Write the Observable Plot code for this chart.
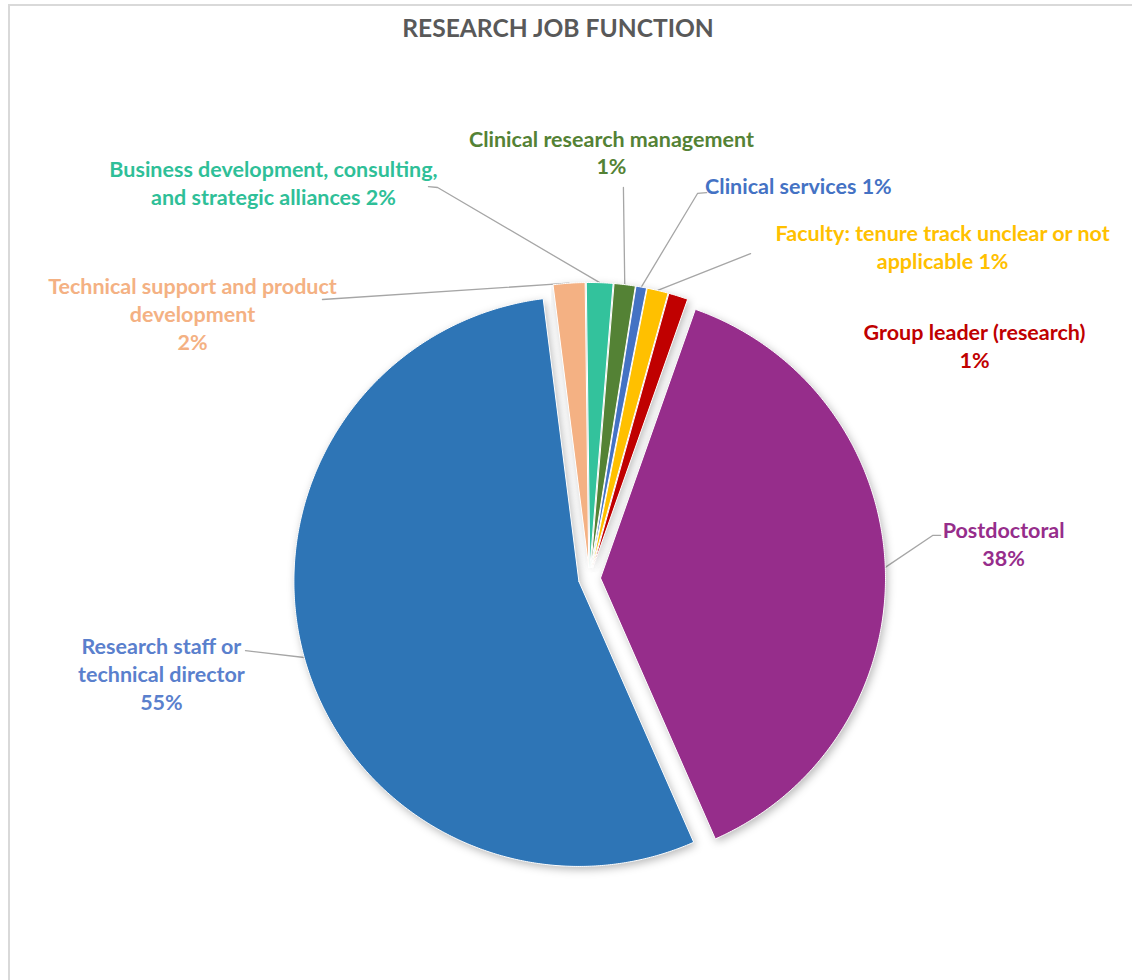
<!DOCTYPE html>
<html>
<head>
<meta charset="utf-8">
<script src="https://cdn.jsdelivr.net/npm/d3@7"></script>
<script src="https://cdn.jsdelivr.net/npm/@observablehq/plot@0.6"></script>
<style>
  body { margin: 0; background: #fff; }
  #wrap { position: relative; width: 1132px; height: 980px; overflow: hidden; background: #fff; }
  #frame { position: absolute; left: 8px; top: 4px; width: 1300px; height: 1100px;
           border-top: 2px solid #d9d9d9; border-left: 2px solid #d9d9d9; }
  #title { position: absolute; top: 13px; left: 0; width: 1116px; text-align: center;
           font: bold 24.6px Lato, sans-serif; line-height: 30px; color: #595959; }
  #chart { position: absolute; top: 60px; left: 0; }
</style>
</head>
<body>
<div id="wrap">
  <div id="frame"></div>
  <div id="title">RESEARCH JOB FUNCTION</div>
  <div id="chart"></div>
</div>
<script>
// ---- data (clockwise from the pie's start angle) ----
const names = [
  "Technical support and product development",
  "Business development, consulting, and strategic alliances",
  "Clinical research management",
  "Clinical services",
  "Faculty: tenure track unclear or not applicable",
  "Group leader (research)",
  "Postdoctoral",
  "Research staff or technical director"
];
const values = [1.8, 1.5, 1.2, 0.6, 1.2, 1.1, 38.0, 54.6];
const sliceColors = ["#F4B183", "#33C29C", "#548235", "#4472C4", "#FFC000", "#C00000", "#962D8B", "#2E75B6"];
const labelColors = ["#F4B183", "#2FBF98", "#548235", "#4472C4", "#FFC000", "#C00000", "#962D8B", "#5A80CD"];
const labelTemplates = [
  "Technical support and product\ndevelopment\n{p}",
  "Business development, consulting,\nand strategic alliances {p}",
  "Clinical research management\n{p}",
  "Clinical services {p}",
  "Faculty: tenure track unclear or not\napplicable {p}",
  "Group leader (research)\n{p}",
  "Postdoctoral\n{p}",
  "Research staff or\ntechnical director\n{p}"
];
// label anchor and leader-line start, in pie radii relative to the pie centre
const labelX = [-1.393, -1.109, 0.077, 0.733, 1.239, 1.351, 1.453, -1.502];
const labelY = [-0.930, -1.391, -1.498, -1.379, -1.165, -0.819, -0.125, 0.333];
const leaderStarts = [
  [[-0.937, -0.979]],
  [[-0.565, -1.375], [-0.533, -1.372]],
  [[0.119, -1.372]],
  [[0.411, -1.354], [0.379, -1.351]],
  [[0.565, -1.140]],
  null,
  [[1.232, -0.151], [1.204, -0.151]],
  [[-1.207, 0.253]]
];

// ---- layout ----
const W = 1132, H = 920;
const cx = 589, cy = 518, R = 285;
const startDeg = -7.2;
const explode = 11 / R;
const toRad = Math.PI / 180;
const u = (a) => [Math.sin(a), -Math.cos(a)];

const arcs = d3.pie().sort(null).value(d => d)
  .startAngle(startDeg * toRad).endAngle(startDeg * toRad + 2 * Math.PI)(values);

const slices = [];
const sliceMid = [];
arcs.forEach((a, i) => {
  const mid = (a.startAngle + a.endAngle) / 2;
  const [ox, oy] = u(mid).map(v => v * explode);
  const pts = [{x: ox, y: oy}];
  const n = Math.max(2, Math.ceil((a.endAngle - a.startAngle) / (0.4 * toRad)));
  for (let k = 0; k <= n; k++) {
    const t = a.startAngle + (a.endAngle - a.startAngle) * k / n;
    const [px, py] = u(t);
    pts.push({x: ox + px, y: oy + py});
  }
  pts.push({x: ox, y: oy});
  slices.push(pts);
  const [mx, my] = u(mid);
  sliceMid.push([ox + mx, oy + my]);
});

const leaderPts = [];
leaderStarts.forEach((s, i) => {
  if (!s) return;
  s.forEach(([x, y]) => leaderPts.push({name: names[i], x, y}));
  leaderPts.push({name: names[i], x: sliceMid[i][0], y: sliceMid[i][1]});
});

const shadowMarks = slices.map(pts => Plot.line(pts, {
  x: "x", y: "y", fill: "#000", fillOpacity: 0.28, stroke: "none", dx: 2, dy: 3
}));
const sliceMarks = slices.map((pts, i) => Plot.line(pts, {
  x: "x", y: "y", fill: sliceColors[i], stroke: "white", strokeWidth: 1
}));

const textMarks = names.map((n, i) => Plot.text([{
    x: labelX[i], y: labelY[i],
    t: labelTemplates[i].replace("{p}", Math.round(values[i]) + "%")
  }], {
    x: "x", y: "y", text: "t", fill: labelColors[i],
    fontSize: 21.5, fontWeight: "bold", fontFamily: "Lato, sans-serif",
    lineHeight: 1.3, textAnchor: "middle", lineAnchor: "middle"
  }));

const chart = Plot.plot({
  width: W, height: H,
  margin: 0,
  x: {domain: [-cx / R, (W - cx) / R], range: [0, W], axis: null},
  y: {domain: [-cy / R, (H - cy) / R], range: [0, H], axis: null},
  style: {background: "transparent"},
  marks: [
    Plot.line(leaderPts, {x: "x", y: "y", z: "name", stroke: "#a6a6a6", strokeWidth: 1.3}),
    ...shadowMarks,
    ...sliceMarks,
    ...textMarks
  ]
});

try {
  const svg = d3.select(chart);
  const defs = svg.insert("defs", ":first-child");
  const f = defs.append("filter").attr("id", "pieBlur")
    .attr("x", "-10%").attr("y", "-10%").attr("width", "120%").attr("height", "120%");
  f.append("feGaussianBlur").attr("stdDeviation", 4);
  svg.selectAll('g[fill="#000"]').attr("filter", "url(#pieBlur)");
} catch (e) { console.error(e); }

document.getElementById("chart").appendChild(chart);
</script>
</body>
</html>
